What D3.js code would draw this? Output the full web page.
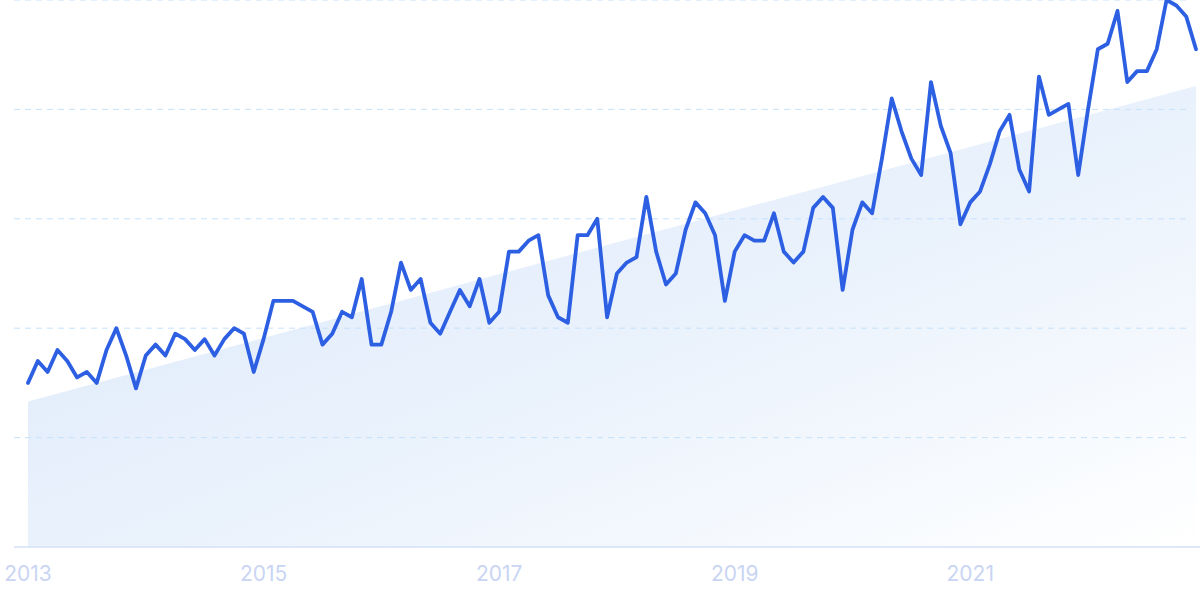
<!DOCTYPE html>
<html>
<head>
<meta charset="utf-8">
<script src="https://cdn.jsdelivr.net/npm/d3@7/dist/d3.min.js"></script>
<style>
  html, body { margin: 0; padding: 0; background: #ffffff; }
  svg { display: block; }
</style>
</head>
<body>
<svg id="chart" width="1200" height="599"></svg>
<script>
// ---- Data ----
const startYear = 2013;
const values = [
  30, 34, 32, 36, 34, 31, 32, 30, 36, 40, 35, 29,
  35, 37, 35, 39, 38, 36, 38, 35, 38, 40, 39, 32,
  38, 45, 45, 45, 44, 43, 37, 39, 43, 42, 49, 37,
  37, 43, 52, 47, 49, 41, 39, 43, 47, 44, 49, 41,
  43, 54, 54, 56, 57, 46, 42, 41, 57, 57, 60, 42,
  50, 52, 53, 64, 54, 48, 50, 58, 63, 61, 57, 45,
  54, 57, 56, 56, 61, 54, 52, 54, 62, 64, 62, 47,
  58, 63, 61, 71, 82, 76, 71, 68, 85, 77, 72, 59,
  63, 65, 70, 76, 79, 69, 65, 86, 79, 80, 81, 68,
  80, 91, 92, 98, 85, 87, 87, 91, 100, 99, 97, 91
];
const trendValues = [26.6, 84.3];       // trend band: first month, last month
const yTicks = [0, 20, 40, 60, 80, 100];
const xTickLabels = ["2013", "2015", "2017", "2019", "2021"];

// ---- Layout ----
const svg = d3.select("#chart");
const baseY = 547;

const x = d3.scaleLinear().domain([0, values.length - 1]).range([28, 1196]);
const y = d3.scaleLinear().domain([0, 100]).range([baseY, 0]);

// gradient for trend area
const defs = svg.append("defs");
const grad = defs.append("linearGradient")
  .attr("id", "trendGrad")
  .attr("x1", "0").attr("y1", "0")
  .attr("x2", "1").attr("y2", "1");
grad.append("stop").attr("offset", "0%").attr("stop-color", "#dbe8fa");
grad.append("stop").attr("offset", "55%").attr("stop-color", "#eaf2fc");
grad.append("stop").attr("offset", "100%").attr("stop-color", "#ffffff");

// trend area
const trendData = [
  { i: 0, v: trendValues[0] },
  { i: values.length - 1, v: trendValues[1] }
];
const area = d3.area()
  .x(d => x(d.i))
  .y0(y(0))
  .y1(d => y(d.v));
svg.append("path")
  .datum(trendData)
  .attr("d", area)
  .attr("fill", "url(#trendGrad)");

// grid lines
svg.append("g")
  .selectAll("line")
  .data(yTicks.filter(t => t > 0))
  .join("line")
  .attr("x1", 14).attr("x2", 1188)
  .attr("y1", d => y(d)).attr("y2", d => y(d))
  .attr("stroke", "#c6e2fc")
  .attr("stroke-width", 1)
  .attr("stroke-dasharray", "6,5");

// baseline
svg.append("line")
  .attr("x1", 14).attr("x2", 1200)
  .attr("y1", y(0)).attr("y2", y(0))
  .attr("stroke", "#d3e1f8")
  .attr("stroke-width", 1.5);

// x labels
svg.append("g")
  .selectAll("text")
  .data(xTickLabels)
  .join("text")
  .attr("x", d => x((+d - startYear) * 12))
  .attr("y", 581)
  .attr("text-anchor", "middle")
  .attr("font-family", "Inter, 'Noto Sans', sans-serif")
  .attr("font-size", 21)
  .attr("fill", "#c9d5f3")
  .text(d => d);

// main line
const line = d3.line()
  .x((d, i) => x(i))
  .y(d => y(d));
svg.append("path")
  .datum(values)
  .attr("d", line)
  .attr("fill", "none")
  .attr("stroke", "#2d5fe3")
  .attr("stroke-width", 3.8)
  .attr("stroke-linejoin", "round")
  .attr("stroke-linecap", "round");
</script>
</body>
</html>
